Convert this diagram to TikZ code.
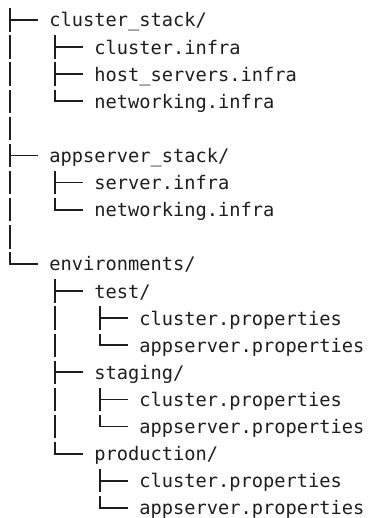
\documentclass[tikz,border=0pt]{standalone}
\usepackage{fontspec}
\newfontfamily\treemono{DejaVu Sans Mono}
\definecolor{ink}{HTML}{1E1E1E}

% Draws one level of the tree: a trunk from #1 down to the last child #3,
% and a short horizontal tick to every child in #2.
\newcommand\drawbranch[3]{%
  \path ([shift={(-12.2pt,7pt)}]#3.base west) coordinate (#3-end);
  \draw[trunk] (#1) -- (#1 |- #3-end);
  \foreach \c in {#2}
    \draw[tick] ([shift={(-12.2pt,7pt)}]\c.base west) -- ++(-27.2pt,0);
}
% Top end of the trunk that hangs below a directory entry
\newcommand\trunktop[1]{%
  \path ([shift={(5.6pt,-8.4pt)}]#1.base west) coordinate (#1-top);
}

\begin{document}
\begin{tikzpicture}[x=1pt,y=1pt,
  entry/.style={anchor=base west, inner sep=0pt, outer sep=0pt,
    font=\treemono\fontsize{18.69pt}{27.1pt}\selectfont, text=ink},
  trunk/.style={draw=ink, line width=1.8pt, dash pattern=on 23.4pt off 3.7pt},
  tick/.style={draw=ink, line width=1.8pt, line cap=rect}]
\useasboundingbox (0,0) rectangle (368,-518);

% top level
\node[entry] (cs)  at (49.4,-27)    {cluster\_stack/};
\node[entry] (as)  at (49.4,-162.5) {appserver\_stack/};
\node[entry] (env) at (49.4,-270.9) {environments/};

% cluster_stack
\node[entry] (cs1) at (94.4,-54.1)  {cluster.infra};
\node[entry] (cs2) at (94.4,-81.2)  {host\_servers.infra};
\node[entry] (cs3) at (94.4,-108.3) {networking.infra};

% appserver_stack
\node[entry] (as1) at (94.4,-189.6) {server.infra};
\node[entry] (as2) at (94.4,-216.7) {networking.infra};

% environments
\node[entry] (test) at (94.4,-298)   {test/};
\node[entry] (stg)  at (94.4,-379.3) {staging/};
\node[entry] (prod) at (94.4,-460.6) {production/};

\node[entry] (test1) at (139.4,-325.1) {cluster.properties};
\node[entry] (test2) at (139.4,-352.2) {appserver.properties};
\node[entry] (stg1)  at (139.4,-406.4) {cluster.properties};
\node[entry] (stg2)  at (139.4,-433.5) {appserver.properties};
\node[entry] (prod1) at (139.4,-487.7) {cluster.properties};
\node[entry] (prod2) at (139.4,-514.8) {appserver.properties};

% tree lines
\coordinate (root-top) at (10,-8.3);
\drawbranch{root-top}{cs,as,env}{env}

\trunktop{cs}
\drawbranch{cs-top}{cs1,cs2,cs3}{cs3}
\trunktop{as}
\drawbranch{as-top}{as1,as2}{as2}
\trunktop{env}
\drawbranch{env-top}{test,stg,prod}{prod}

\trunktop{test}
\drawbranch{test-top}{test1,test2}{test2}
\trunktop{stg}
\drawbranch{stg-top}{stg1,stg2}{stg2}
\trunktop{prod}
\drawbranch{prod-top}{prod1,prod2}{prod2}
\end{tikzpicture}
\end{document}
